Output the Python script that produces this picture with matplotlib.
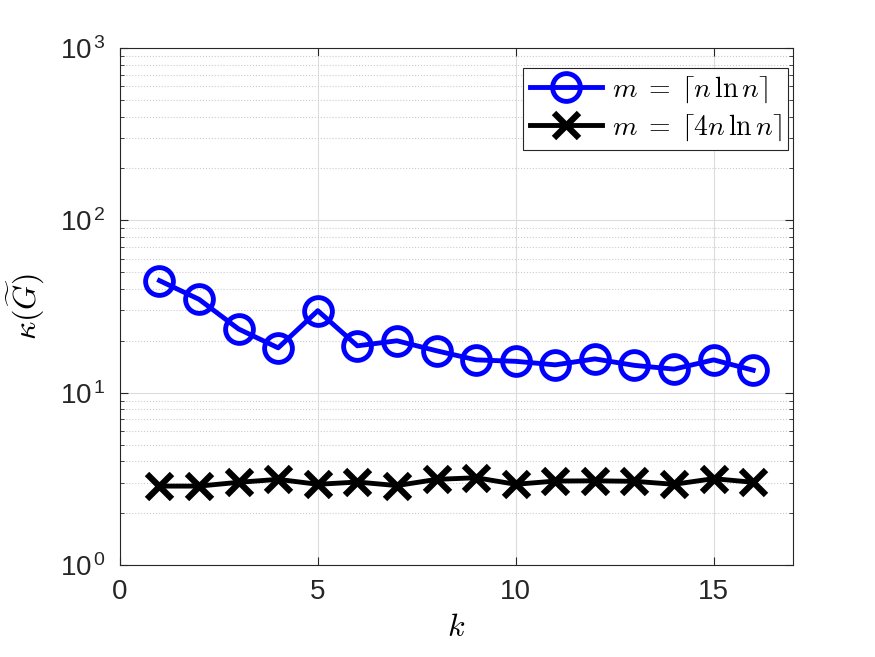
import numpy as np
import matplotlib.pyplot as plt
from matplotlib.ticker import LogLocator, NullFormatter

plt.rcParams['font.family'] = ['Liberation Sans', 'DejaVu Sans']
plt.rcParams['mathtext.fontset'] = 'cm'

# data
k = np.arange(1, 17)
kappa_nlogn = [44.7, 34.8, 23.4, 18.2, 29.9, 18.7, 20.0, 17.5,
               15.5, 15.2, 14.5, 15.7, 14.4, 13.7, 15.5, 13.5]
kappa_4nlogn = [2.87, 2.87, 3.02, 3.14, 2.94, 3.03, 2.89, 3.14,
                3.21, 2.94, 3.07, 3.08, 3.06, 2.94, 3.17, 3.02]
labels = [r'$m\;=\;\lceil n\,\ln n\rceil$', r'$m\;=\;\lceil 4n\,\ln n\rceil$']
xticks = [0, 5, 10, 15]
ydecades = [0, 1, 2, 3]

fig = plt.figure(figsize=(8.75, 6.57), dpi=100)
ax = fig.add_axes([0.137, 0.140, 0.769, 0.787])

ax.plot(k, kappa_nlogn, '-o', color='blue', lw=3.5, ms=20, mew=3.5,
        mfc='none', label=labels[0])
ax.plot(k, kappa_4nlogn, '-x', color='black', lw=3.5, ms=18, mew=4.5,
        label=labels[1])

ax.set_yscale('log')
ax.set_ylim(1, 1000)
ax.set_xlim(0, 17)
ax.set_xticks(xticks)
ax.set_yticks([10.0 ** d for d in ydecades])
ax.set_yticklabels([r'$\mathregular{10^{\,%d}}$' % d for d in ydecades])
ax.yaxis.set_minor_locator(LogLocator(base=10, subs=np.arange(2, 10)))
ax.yaxis.set_minor_formatter(NullFormatter())

ax.grid(True, which='major', color='#dcdcdc', lw=0.8)
ax.grid(True, which='minor', axis='y', color='#cccccc', lw=0.8, ls=':')
ax.tick_params(which='both', direction='in', top=True, right=True,
               labelsize=20, color='#262626', labelcolor='#262626')
ax.tick_params(which='major', length=6)
ax.tick_params(which='minor', length=3)
ax.tick_params(axis='x', pad=10)
ax.tick_params(axis='y', pad=10)
for s in ax.spines.values():
    s.set_color('#262626')
    s.set_linewidth(0.8)

ax.set_xlabel('$k$', fontsize=23, labelpad=6)
ax.set_ylabel(r'$\kappa(\widetilde{G})$', fontsize=23, labelpad=10)

leg = ax.legend(loc='upper right', bbox_to_anchor=(0.993, 0.962),
                fontsize=20, fancybox=False,
                edgecolor='#262626', framealpha=1, handlelength=2.6,
                borderpad=0.25, labelspacing=0.25, handletextpad=0.35,
                borderaxespad=0)
leg.get_frame().set_linewidth(0.8)

fig.savefig('out.png', dpi=100)
